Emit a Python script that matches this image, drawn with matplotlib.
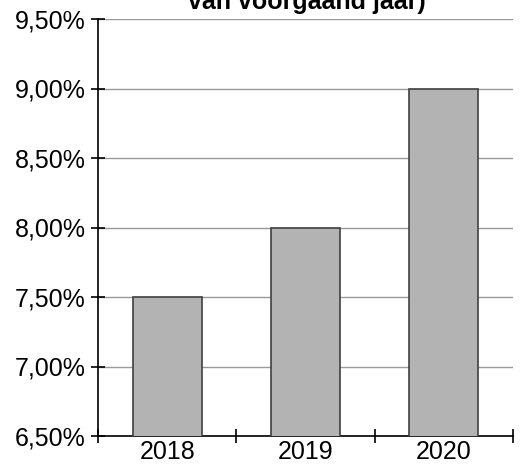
import matplotlib.pyplot as plt
from matplotlib.ticker import FixedLocator

plt.rcParams['font.family'] = ['Liberation Sans', 'DejaVu Sans']

years = ['2018', '2019', '2020']
rates = [7.5, 8.0, 9.0]
yticks = [6.5, 7.0, 7.5, 8.0, 8.5, 9.0, 9.5]
ylabels = ['6,50%', '7,00%', '7,50%', '8,00%', '8,50%', '9,00%', '9,50%']

fig = plt.figure(figsize=(5.22, 4.68), dpi=100)
ax = fig.add_axes([98 / 522, 1 - 436 / 468, (513 - 98) / 522, (436 - 19) / 468])

x = range(len(years))
ax.bar(x, rates, width=0.5, color='#b3b3b3', edgecolor='#404040', linewidth=1.2, zorder=3)

ax.set_xlim(-0.5, len(years) - 0.5)
ax.set_ylim(6.5, 9.5)
ax.set_yticks(yticks)
ax.set_yticklabels(ylabels, fontsize=18)
ax.set_xticks(list(x))
ax.set_xticklabels(years, fontsize=18)
ax.xaxis.set_minor_locator(FixedLocator([i - 0.5 for i in range(len(years) + 1)]))
ax.tick_params(axis='x', which='major', length=0, pad=3)
ax.tick_params(axis='x', which='minor', direction='inout', length=10, width=1.2)
ax.tick_params(axis='y', direction='inout', length=10, width=1.2, pad=4)

ax.yaxis.grid(True, color='#999999', linewidth=1.0, zorder=0)
ax.set_axisbelow(True)
for s in ['top', 'right']:
    ax.spines[s].set_visible(False)
for s in ['left', 'bottom']:
    ax.spines[s].set_linewidth(1.2)

# title is cut off at the top of the image, as in the source
fig.text(307 / 522, 1 - 9 / 468, 'van voorgaand jaar)', ha='center', va='baseline',
         fontsize=18, fontweight='bold')

fig.savefig('out.png', dpi=100)
